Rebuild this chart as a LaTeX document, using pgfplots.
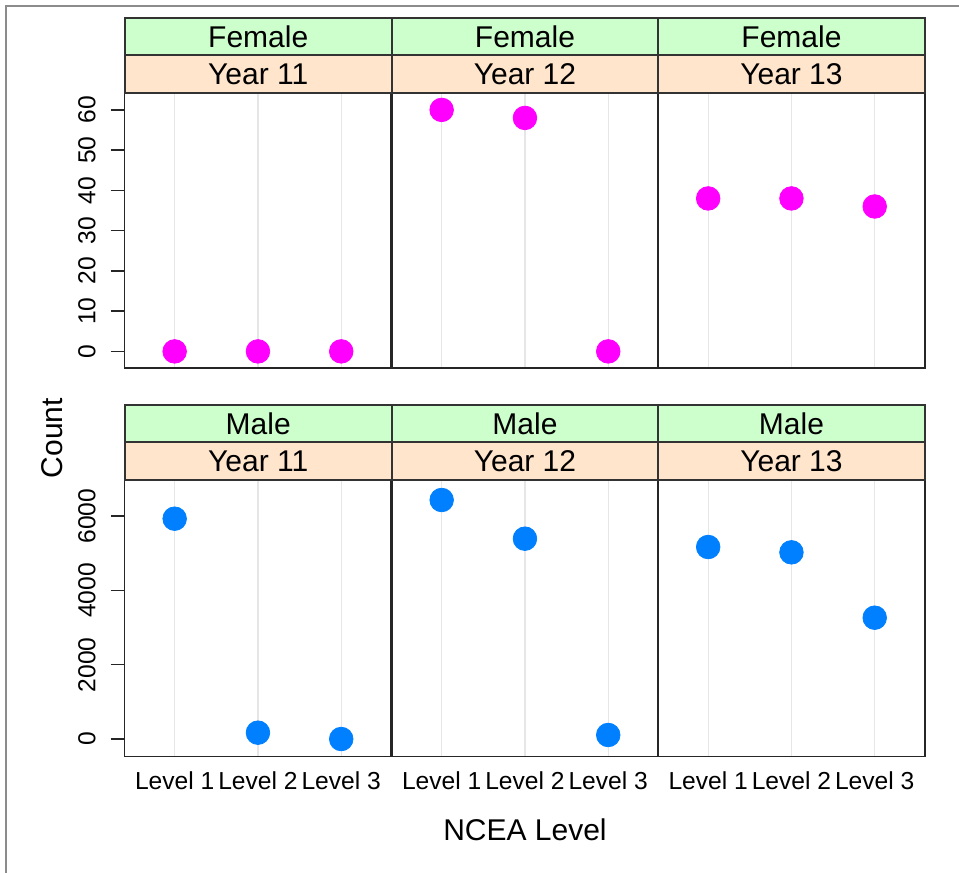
\documentclass[border=0pt]{standalone}
\usepackage{fontspec}
\setmainfont{Liberation Sans}
\usepackage{pgfplots}
\pgfplotsset{compat=1.18}
\definecolor{stripgreen}{HTML}{CCFFCC}
\definecolor{striporange}{HTML}{FFE5CC}
\definecolor{fem}{HTML}{FF00FF}
\definecolor{mal}{HTML}{0080FF}
\definecolor{gridgray}{HTML}{E6E6E6}
\definecolor{framegray}{HTML}{8C8C8C}

\pgfplotsset{
 panel/.style={scale only axis, width=133.25pt, xmin=0.4, xmax=3.6,
   xtick={1,2,3}, xticklabels={}, xtick style={draw=none},
   xmajorgrids, grid style={gridgray, line width=0.6pt},
   axis line style={line width=0.8pt, black!85},
   ytick=\empty, tick align=outside, major tick length=7pt, ytick pos=left,
   tick style={black!85, line width=0.8pt},
   /pgf/number format/assume math mode=true,
   /pgf/number format/fixed, /pgf/number format/1000 sep={},
   tick label style={font=\fontsize{12.3}{14}\selectfont},
   yticklabel style={xshift=-4pt, rotate=90, anchor=south},
   xticklabel style={yshift=3pt},
   clip=false, anchor=south west},
 toprow/.style={height=137.65pt, ymin=-4.2, ymax=64.2},
 botrow/.style={height=138.35pt, ymin=-476, ymax=6969},
 fpt/.style={only marks, mark=*, mark size=5.9pt, color=fem, mark options={draw=none, fill=fem}},
 mpt/.style={only marks, mark=*, mark size=5.9pt, color=mal, mark options={draw=none, fill=mal}},
}

\begin{document}
\begin{tikzpicture}[x=0.5pt,y=0.5pt]
\path[use as bounding box] (0,0) rectangle (959,873);
\draw[framegray, line width=1pt] (6,0) -- (6,866.5) -- (959,866.5);

% ---- Female row ----
\begin{axis}[panel, toprow, at={(62.35pt,252.35pt)}, ytick={0,10,20,30,40,50,60}]
\addplot[fpt] coordinates {(1,0) (2,0) (3,0)};
\end{axis}
\begin{axis}[panel, toprow, at={(195.85pt,252.35pt)}]
\addplot[fpt] coordinates {(1,60) (2,58) (3,0)};
\end{axis}
\begin{axis}[panel, toprow, at={(329.1pt,252.35pt)}]
\addplot[fpt] coordinates {(1,38) (2,38) (3,36)};
\end{axis}

% ---- Male row ----
\begin{axis}[panel, botrow, at={(62.35pt,58.15pt)}, ytick={0,2000,4000,6000},
  xticklabels={Level 1,Level 2,Level 3}]
\addplot[mpt] coordinates {(1,5928) (2,170) (3,0)};
\end{axis}
\begin{axis}[panel, botrow, at={(195.85pt,58.15pt)},
  xticklabels={Level 1,Level 2,Level 3}]
\addplot[mpt] coordinates {(1,6431) (2,5390) (3,108)};
\end{axis}
\begin{axis}[panel, botrow, at={(329.1pt,58.15pt)},
  xticklabels={Level 1,Level 2,Level 3}]
\addplot[mpt] coordinates {(1,5166) (2,5023) (3,3264)};
\end{axis}

% ---- strips ----
\foreach \xa/\xb in {124.7/391.7, 391.7/658.2, 658.2/924.7}{
  \filldraw[fill=stripgreen, draw=black!80, line width=0.8pt] (\xa,817.7) rectangle (\xb,855);
  \filldraw[fill=striporange, draw=black!80, line width=0.8pt] (\xa,780) rectangle (\xb,817.7);
  \filldraw[fill=stripgreen, draw=black!80, line width=0.8pt] (\xa,430.7) rectangle (\xb,468);
  \filldraw[fill=striporange, draw=black!80, line width=0.8pt] (\xa,393) rectangle (\xb,430.7);
}
\foreach \xc/\yr in {258.2/11, 524.95/12, 791.45/13}{
  \node[font=\fontsize{15}{18}\selectfont, inner sep=0pt] at (\xc,836.35) {Female};
  \node[font=\fontsize{15}{18}\selectfont, inner sep=0pt] at (\xc,798.85) {Year \yr};
  \node[font=\fontsize{15}{18}\selectfont, inner sep=0pt] at (\xc,449.35) {Male};
  \node[font=\fontsize{15}{18}\selectfont, inner sep=0pt] at (\xc,411.85) {Year \yr};
}
\node[font=\fontsize{15}{18}\selectfont, rotate=90, inner sep=0pt] at (52,435) {Count};
\node[font=\fontsize{15}{18}\selectfont, inner sep=0pt] at (525,43) {NCEA Level};
\end{tikzpicture}
\end{document}
